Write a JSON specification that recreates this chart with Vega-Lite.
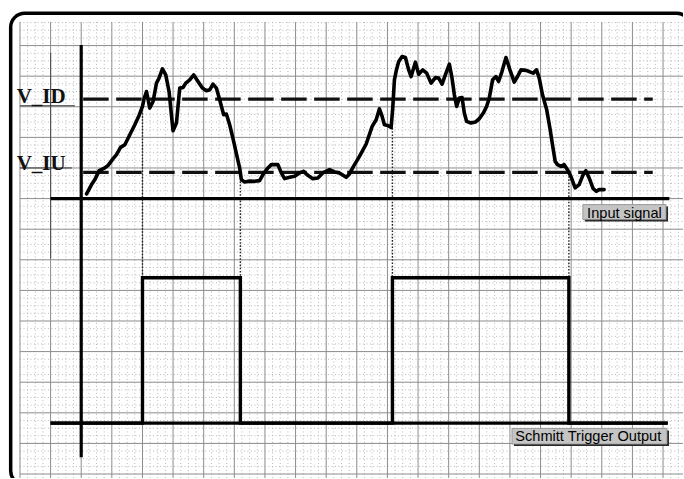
{
  "$schema": "https://vega.github.io/schema/vega-lite/v6.json",
  "width": 684,
  "height": 479,
  "autosize": {"type": "fit", "contains": "padding"},
  "padding": 0,
  "background": "white",
  "config": {"view": {"stroke": null}},
  "datasets": {
    "vmajor": [{"t":-2},{"t":-1},{"t":0},{"t":1},{"t":2},{"t":3},{"t":4},{"t":5},{"t":6},{"t":7},{"t":8},{"t":9},{"t":10},{"t":11},{"t":12},{"t":13},{"t":14},{"t":15},{"t":16},{"t":17},{"t":18},{"t":19}],
    "vminor": [{"t":-1.75},{"t":-1.5},{"t":-1.25},{"t":-0.75},{"t":-0.5},{"t":-0.25},{"t":0.25},{"t":0.5},{"t":0.75},{"t":1.25},{"t":1.5},{"t":1.75},{"t":2.25},{"t":2.5},{"t":2.75},{"t":3.25},{"t":3.5},{"t":3.75},{"t":4.25},{"t":4.5},{"t":4.75},{"t":5.25},{"t":5.5},{"t":5.75},{"t":6.25},{"t":6.5},{"t":6.75},{"t":7.25},{"t":7.5},{"t":7.75},{"t":8.25},{"t":8.5},{"t":8.75},{"t":9.25},{"t":9.5},{"t":9.75},{"t":10.25},{"t":10.5},{"t":10.75},{"t":11.25},{"t":11.5},{"t":11.75},{"t":12.25},{"t":12.5},{"t":12.75},{"t":13.25},{"t":13.5},{"t":13.75},{"t":14.25},{"t":14.5},{"t":14.75},{"t":15.25},{"t":15.5},{"t":15.75},{"t":16.25},{"t":16.5},{"t":16.75},{"t":17.25},{"t":17.5},{"t":17.75},{"t":18.25},{"t":18.5},{"t":18.75},{"t":19.25},{"t":19.5}],
    "hmajor": [{"v":5},{"v":4},{"v":3},{"v":2},{"v":1},{"v":0},{"v":-1},{"v":-2},{"v":-3},{"v":-4},{"v":-5},{"v":-6},{"v":-7},{"v":-8},{"v":-9}],
    "hminor": [{"v":5.75},{"v":5.5},{"v":5.25},{"v":4.75},{"v":4.5},{"v":4.25},{"v":3.75},{"v":3.5},{"v":3.25},{"v":2.75},{"v":2.5},{"v":2.25},{"v":1.75},{"v":1.5},{"v":1.25},{"v":0.75},{"v":0.5},{"v":0.25},{"v":-0.25},{"v":-0.5},{"v":-0.75},{"v":-1.25},{"v":-1.5},{"v":-1.75},{"v":-2.25},{"v":-2.5},{"v":-2.75},{"v":-3.25},{"v":-3.5},{"v":-3.75},{"v":-4.25},{"v":-4.5},{"v":-4.75},{"v":-5.25},{"v":-5.5},{"v":-5.75},{"v":-6.25},{"v":-6.5},{"v":-6.75},{"v":-7.25},{"v":-7.5},{"v":-7.75},{"v":-8.25},{"v":-8.5},{"v":-8.75}],
    "frame": [{"t1":-2.303,"t2":19.9,"v1":6.055,"v2":-9.35}],
    "thresholds": [{"name":"V_ID","v":3.251,"t1":0.064,"t2":18.664},{"name":"V_IU","v":0.858,"t1":0.064,"t2":18.664}],
    "underlines": [{"v":3.033,"t1":-2.0,"t2":-0.206},{"v":1.001,"t1":-2.0,"t2":-0.304}],
    "thresholdLabels": [{"label":"V_ID","t":-2.108,"v":3.114},{"label":"V_IU","t":-2.108,"v":0.946}],
    "dotted": [{"t":2.001,"v1":3.01,"v2":-2.586},{"t":5.197,"v1":0.564,"v2":-2.586},{"t":10.163,"v1":2.305,"v2":-2.586},{"t":15.925,"v1":0.838,"v2":-2.586}],
    "baselines": [{"v":0,"t1":-1,"t2":19.206},{"v":-7.337,"t1":-1,"t2":19.153}],
    "signal": [{"t":0.175,"v":0.153},{"t":0.338,"v":0.457},{"t":0.446,"v":0.62},{"t":0.586,"v":0.913},{"t":0.772,"v":1.001},{"t":0.879,"v":1.086},{"t":1.042,"v":1.304},{"t":1.153,"v":1.435},{"t":1.284,"v":1.673},{"t":1.424,"v":1.761},{"t":1.587,"v":2.087},{"t":1.75,"v":2.413},{"t":1.89,"v":2.716},{"t":2.001,"v":3.01},{"t":2.053,"v":3.261},{"t":2.132,"v":3.499},{"t":2.239,"v":2.958},{"t":2.347,"v":3.173},{"t":2.458,"v":3.773},{"t":2.542,"v":3.936},{"t":2.653,"v":4.239},{"t":2.761,"v":4.043},{"t":2.869,"v":3.499},{"t":2.999,"v":2.217},{"t":3.11,"v":2.468},{"t":3.217,"v":3.61},{"t":3.325,"v":3.629},{"t":3.413,"v":3.773},{"t":3.544,"v":3.88},{"t":3.674,"v":4.043},{"t":3.814,"v":3.825},{"t":3.958,"v":3.61},{"t":4.088,"v":3.522},{"t":4.196,"v":3.554},{"t":4.303,"v":3.74},{"t":4.414,"v":3.61},{"t":4.522,"v":3.228},{"t":4.652,"v":2.739},{"t":4.74,"v":2.762},{"t":4.848,"v":2.413},{"t":4.978,"v":1.868},{"t":5.119,"v":1.239},{"t":5.174,"v":1.001},{"t":5.229,"v":0.62},{"t":5.337,"v":0.545},{"t":5.5,"v":0.571},{"t":5.663,"v":0.564},{"t":5.826,"v":0.587},{"t":5.934,"v":0.783},{"t":6.097,"v":1.001},{"t":6.208,"v":1.109},{"t":6.423,"v":1.109},{"t":6.534,"v":0.838},{"t":6.641,"v":0.652},{"t":6.804,"v":0.695},{"t":6.967,"v":0.727},{"t":7.131,"v":0.838},{"t":7.261,"v":0.89},{"t":7.401,"v":0.76},{"t":7.564,"v":0.652},{"t":7.727,"v":0.675},{"t":7.89,"v":0.838},{"t":8.109,"v":0.946},{"t":8.272,"v":0.871},{"t":8.435,"v":0.838},{"t":8.654,"v":0.695},{"t":8.761,"v":0.805},{"t":8.891,"v":1.053},{"t":9.087,"v":1.379},{"t":9.306,"v":1.784},{"t":9.501,"v":2.358},{"t":9.632,"v":2.576},{"t":9.739,"v":2.935},{"t":9.827,"v":2.684},{"t":9.902,"v":2.413},{"t":10.01,"v":2.39},{"t":10.121,"v":2.325},{"t":10.173,"v":2.958},{"t":10.228,"v":3.88},{"t":10.294,"v":4.206},{"t":10.369,"v":4.477},{"t":10.479,"v":4.64},{"t":10.587,"v":4.608},{"t":10.694,"v":4.206},{"t":10.773,"v":3.988},{"t":10.913,"v":4.458},{"t":11.021,"v":4.066},{"t":11.151,"v":4.206},{"t":11.282,"v":4.099},{"t":11.425,"v":3.773},{"t":11.565,"v":3.955},{"t":11.673,"v":3.936},{"t":11.784,"v":3.74},{"t":11.891,"v":4.043},{"t":12.022,"v":4.392},{"t":12.11,"v":3.936},{"t":12.185,"v":3.391},{"t":12.26,"v":3.01},{"t":12.348,"v":3.284},{"t":12.436,"v":3.303},{"t":12.511,"v":2.794},{"t":12.586,"v":2.521},{"t":12.729,"v":2.468},{"t":12.87,"v":2.501},{"t":13.0,"v":2.609},{"t":13.131,"v":2.794},{"t":13.238,"v":3.01},{"t":13.326,"v":3.284},{"t":13.434,"v":3.88},{"t":13.545,"v":3.988},{"t":13.629,"v":3.825},{"t":13.74,"v":4.151},{"t":13.871,"v":4.608},{"t":14.001,"v":4.206},{"t":14.141,"v":3.805},{"t":14.249,"v":3.988},{"t":14.36,"v":4.206},{"t":14.523,"v":4.19},{"t":14.63,"v":4.151},{"t":14.761,"v":4.099},{"t":14.869,"v":4.206},{"t":14.957,"v":3.936},{"t":15.064,"v":3.391},{"t":15.201,"v":2.902},{"t":15.315,"v":2.25},{"t":15.39,"v":1.761},{"t":15.478,"v":1.216},{"t":15.553,"v":1.109},{"t":15.664,"v":1.053},{"t":15.772,"v":1.109},{"t":15.879,"v":0.946},{"t":15.99,"v":0.727},{"t":16.13,"v":0.349},{"t":16.261,"v":0.457},{"t":16.392,"v":0.783},{"t":16.48,"v":0.913},{"t":16.587,"v":0.675},{"t":16.718,"v":0.326},{"t":16.825,"v":0.238},{"t":16.913,"v":0.293},{"t":17.076,"v":0.293}],
    "output": [{"i":0,"t":-1,"v":-7.337},{"i":1,"t":2.001,"v":-7.337},{"i":2,"t":2.001,"v":-2.586},{"i":3,"t":5.197,"v":-2.586},{"i":4,"t":5.197,"v":-7.337},{"i":5,"t":10.163,"v":-7.337},{"i":6,"t":10.163,"v":-2.586},{"i":7,"t":15.925,"v":-2.586},{"i":8,"t":15.925,"v":-7.337},{"i":9,"t":19.153,"v":-7.337}],
    "tags": [{"label":"Input signal","t1":16.381,"t2":19.098,"v1":-0.196,"v2":-0.685,"tt":16.52,"tv":-0.62},{"label":"Schmitt Trigger Output","t1":14.066,"t2":19.13,"v1":-7.51,"v2":-8.022,"tt":14.174,"tv":-7.924}]
  },
  "layer": [
    {
      "data": {"name": "vminor"},
      "mark": {"type": "rule", "stroke": "#b8b8b8", "strokeWidth": 1, "strokeDash": [1, 2.5]},
      "encoding": {
        "x": {"field": "t", "type": "quantitative", "scale": {"domain": [-2.652, 19.652], "nice": false, "zero": false}, "axis": null},
        "y": {"datum": 5.772, "type": "quantitative", "scale": {"domain": [-9.13, 6.489], "nice": false, "zero": false}, "axis": null},
        "y2": {"datum": -9.13}
      }
    },
    {
      "data": {"name": "hminor"},
      "mark": {"type": "rule", "stroke": "#b8b8b8", "strokeWidth": 1, "strokeDash": [1, 2.5]},
      "encoding": {
        "y": {"field": "v", "type": "quantitative", "scale": {"domain": [-9.13, 6.489], "nice": false, "zero": false}, "axis": null},
        "x": {"datum": -2, "type": "quantitative", "scale": {"domain": [-2.652, 19.652], "nice": false, "zero": false}, "axis": null},
        "x2": {"datum": 19.652}
      }
    },
    {
      "data": {"name": "vmajor"},
      "mark": {"type": "rule", "stroke": "#8c8c8c", "strokeWidth": 1},
      "encoding": {
        "x": {"field": "t", "type": "quantitative", "scale": {"domain": [-2.652, 19.652], "nice": false, "zero": false}, "axis": null},
        "y": {"datum": 5.772, "type": "quantitative", "scale": {"domain": [-9.13, 6.489], "nice": false, "zero": false}, "axis": null},
        "y2": {"datum": -9.13}
      }
    },
    {
      "data": {"name": "hmajor"},
      "mark": {"type": "rule", "stroke": "#8c8c8c", "strokeWidth": 1},
      "encoding": {
        "y": {"field": "v", "type": "quantitative", "scale": {"domain": [-9.13, 6.489], "nice": false, "zero": false}, "axis": null},
        "x": {"datum": -2, "type": "quantitative", "scale": {"domain": [-2.652, 19.652], "nice": false, "zero": false}, "axis": null},
        "x2": {"datum": 19.652}
      }
    },
    {
      "data": {"values": [{"t": -1, "v1": 4.76, "v2": -1.96}]},
      "mark": {"type": "rule", "stroke": "#555555", "strokeWidth": 1.2},
      "encoding": {
        "x": {"field": "t", "type": "quantitative", "scale": {"domain": [-2.652, 19.652], "nice": false, "zero": false}, "axis": null},
        "y": {"field": "v1", "type": "quantitative", "scale": {"domain": [-9.13, 6.489], "nice": false, "zero": false}, "axis": null},
        "y2": {"field": "v2"}
      }
    },
    {
      "data": {"name": "frame"},
      "mark": {"type": "rect", "filled": false, "stroke": "black", "strokeWidth": 3.5, "cornerRadius": 14, "clip": true},
      "encoding": {
        "x": {"field": "t1", "type": "quantitative", "scale": {"domain": [-2.652, 19.652], "nice": false, "zero": false}, "axis": null},
        "x2": {"field": "t2"},
        "y": {"field": "v1", "type": "quantitative", "scale": {"domain": [-9.13, 6.489], "nice": false, "zero": false}, "axis": null},
        "y2": {"field": "v2"}
      }
    },
    {
      "data": {"name": "dotted"},
      "mark": {"type": "rule", "stroke": "#222222", "strokeWidth": 1.4, "strokeDash": [1.6, 1.6]},
      "encoding": {
        "x": {"field": "t", "type": "quantitative", "scale": {"domain": [-2.652, 19.652], "nice": false, "zero": false}, "axis": null},
        "y": {"field": "v1", "type": "quantitative", "scale": {"domain": [-9.13, 6.489], "nice": false, "zero": false}, "axis": null},
        "y2": {"field": "v2"}
      }
    },
    {
      "data": {"name": "thresholds"},
      "mark": {"type": "rule", "stroke": "#111111", "strokeWidth": 3.4, "strokeDash": [25.5, 7.5]},
      "encoding": {
        "x": {"field": "t1", "type": "quantitative", "scale": {"domain": [-2.652, 19.652], "nice": false, "zero": false}, "axis": null},
        "x2": {"field": "t2"},
        "y": {"field": "v", "type": "quantitative", "scale": {"domain": [-9.13, 6.489], "nice": false, "zero": false}, "axis": null}
      }
    },
    {
      "data": {"name": "underlines"},
      "mark": {"type": "rule", "stroke": "#333333", "strokeWidth": 1},
      "encoding": {
        "x": {"field": "t1", "type": "quantitative", "scale": {"domain": [-2.652, 19.652], "nice": false, "zero": false}, "axis": null},
        "x2": {"field": "t2"},
        "y": {"field": "v", "type": "quantitative", "scale": {"domain": [-9.13, 6.489], "nice": false, "zero": false}, "axis": null}
      }
    },
    {
      "data": {"values": [{"t": 0, "v1": 5.022, "v2": -8.456}]},
      "mark": {"type": "rule", "stroke": "black", "strokeWidth": 3.2},
      "encoding": {
        "x": {"field": "t", "type": "quantitative", "scale": {"domain": [-2.652, 19.652], "nice": false, "zero": false}, "axis": null},
        "y": {"field": "v1", "type": "quantitative", "scale": {"domain": [-9.13, 6.489], "nice": false, "zero": false}, "axis": null},
        "y2": {"field": "v2"}
      }
    },
    {
      "data": {"name": "baselines"},
      "mark": {"type": "rule", "stroke": "black", "strokeWidth": 3.2},
      "encoding": {
        "x": {"field": "t1", "type": "quantitative", "scale": {"domain": [-2.652, 19.652], "nice": false, "zero": false}, "axis": null},
        "x2": {"field": "t2"},
        "y": {"field": "v", "type": "quantitative", "scale": {"domain": [-9.13, 6.489], "nice": false, "zero": false}, "axis": null}
      }
    },
    {
      "data": {"name": "signal"},
      "mark": {"type": "line", "stroke": "black", "strokeWidth": 3.6, "strokeJoin": "round", "strokeCap": "round"},
      "encoding": {
        "x": {"field": "t", "type": "quantitative", "scale": {"domain": [-2.652, 19.652], "nice": false, "zero": false}, "axis": null},
        "y": {"field": "v", "type": "quantitative", "scale": {"domain": [-9.13, 6.489], "nice": false, "zero": false}, "axis": null}
      }
    },
    {
      "data": {"name": "output"},
      "mark": {"type": "line", "stroke": "black", "strokeWidth": 3.4, "strokeJoin": "miter"},
      "encoding": {
        "x": {"field": "t", "type": "quantitative", "scale": {"domain": [-2.652, 19.652], "nice": false, "zero": false}, "axis": null},
        "y": {"field": "v", "type": "quantitative", "scale": {"domain": [-9.13, 6.489], "nice": false, "zero": false}, "axis": null},
        "order": {"field": "i", "type": "quantitative"}
      }
    },
    {
      "data": {"name": "tags"},
      "mark": {"type": "rect", "fill": "#2a2a2a", "xOffset": 2, "x2Offset": 2, "yOffset": 2, "y2Offset": 2},
      "encoding": {
        "x": {"field": "t1", "type": "quantitative", "scale": {"domain": [-2.652, 19.652], "nice": false, "zero": false}, "axis": null},
        "x2": {"field": "t2"},
        "y": {"field": "v1", "type": "quantitative", "scale": {"domain": [-9.13, 6.489], "nice": false, "zero": false}, "axis": null},
        "y2": {"field": "v2"}
      }
    },
    {
      "data": {"name": "tags"},
      "mark": {"type": "rect", "fill": "#c4c4c4", "stroke": "#8a8a8a", "strokeWidth": 0.8},
      "encoding": {
        "x": {"field": "t1", "type": "quantitative", "scale": {"domain": [-2.652, 19.652], "nice": false, "zero": false}, "axis": null},
        "x2": {"field": "t2"},
        "y": {"field": "v1", "type": "quantitative", "scale": {"domain": [-9.13, 6.489], "nice": false, "zero": false}, "axis": null},
        "y2": {"field": "v2"}
      }
    },
    {
      "data": {"name": "tags"},
      "mark": {"type": "text", "font": "Liberation Sans", "fontSize": 14.6, "align": "left", "baseline": "alphabetic", "color": "black"},
      "encoding": {
        "x": {"field": "tt", "type": "quantitative", "scale": {"domain": [-2.652, 19.652], "nice": false, "zero": false}, "axis": null},
        "y": {"field": "tv", "type": "quantitative", "scale": {"domain": [-9.13, 6.489], "nice": false, "zero": false}, "axis": null},
        "text": {"field": "label"}
      }
    },
    {
      "data": {"name": "thresholdLabels"},
      "mark": {"type": "text", "font": "Liberation Serif", "fontWeight": "bold", "fontSize": 21, "align": "left", "baseline": "alphabetic", "color": "#111111"},
      "encoding": {
        "x": {"field": "t", "type": "quantitative", "scale": {"domain": [-2.652, 19.652], "nice": false, "zero": false}, "axis": null},
        "y": {"field": "v", "type": "quantitative", "scale": {"domain": [-9.13, 6.489], "nice": false, "zero": false}, "axis": null},
        "text": {"field": "label"}
      }
    }
  ]
}
